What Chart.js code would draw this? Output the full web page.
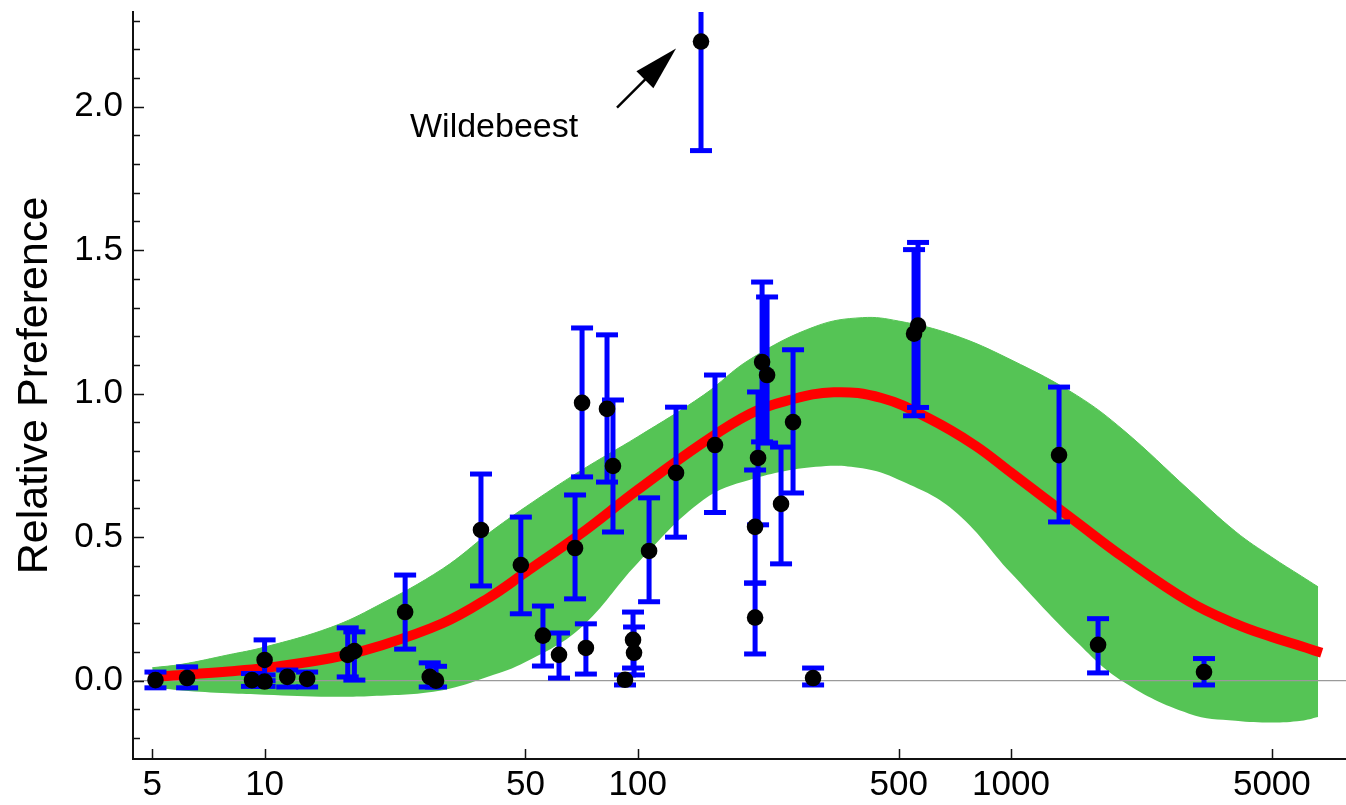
<!DOCTYPE html>
<html>
<head>
<meta charset="utf-8">
<script src="https://cdn.jsdelivr.net/npm/chart.js@4.4.0/dist/chart.umd.min.js"></script>
<style>
html,body{margin:0;padding:0;background:#ffffff;}
canvas{display:block;}
</style>
</head>
<body>
<canvas id="chart" width="1346" height="805"></canvas>
<script>
// ---------- data ----------
const xTickValues = [5, 10, 50, 100, 500, 1000, 5000];
const yTickValues = [0, 0.5, 1, 1.5, 2];
const yMinorTickValues = [-0.2, -0.1, 0, 0.1, 0.2, 0.3, 0.4, 0.5, 0.6, 0.7, 0.8, 0.9, 1.0, 1.1, 1.2, 1.3, 1.4, 1.5, 1.6, 1.7, 1.8, 1.9, 2.0, 2.1, 2.2, 2.3];

// prey body mass (kg) of each observed species
const bodyMass = [5.1, 6.2, 9.25, 10.0, 10.0, 11.5, 13.0, 16.7, 17.4, 23.8,
                  27.7, 28.8, 38.0, 48.6, 55.7, 61.5, 67.9, 70.9, 72.6, 82.7,
                  85.8, 92.4, 97.1, 97.7, 107.2, 126.6, 147.7, 161.0, 206.2, 206.2,
                  210.0, 215.3, 222.0, 242.0, 260.6, 294.9, 549.8, 563.5, 1345, 1711,
                  3290];
const preference = [0.002, 0.009, 0.002, 0.072, -0.003, 0.013, 0.006, 0.090, 0.103, 0.239,
                    0.013, 0.000, 0.525, 0.403, 0.157, 0.090, 0.462, 0.968, 0.114, 0.947,
                    0.748, 0.003, 0.142, 0.097, 0.452, 0.724, 2.227, 0.821, 0.536, 0.220,
                    0.776, 1.110, 1.065, 0.616, 0.901, 0.009, 1.209, 1.237, 0.786, 0.125,
                    0.030];
const prefLow = [-0.025, -0.025, -0.020, 0.000, -0.020, -0.022, -0.022, 0.013, 0.002, 0.110,
                 -0.022, -0.022, 0.330, 0.233, 0.051, 0.009, 0.285, 0.710, 0.023, 0.692,
                 0.518, -0.015, 0.044, 0.020, 0.275, 0.500, 1.847, 0.586, 0.340, 0.093,
                 0.543, 0.832, 0.828, 0.407, 0.654, -0.015, 0.923, 0.952, 0.553, 0.027,
                 -0.015];
const prefHigh = [0.030, 0.048, 0.025, 0.142, 0.020, 0.037, 0.030, 0.184, 0.170, 0.368,
                  0.062, 0.050, 0.720, 0.570, 0.260, 0.166, 0.647, 1.229, 0.198, 1.205,
                  0.978, 0.020, 0.239, 0.187, 0.637, 0.953, 2.607, 1.065, 0.734, 0.340,
                  1.006, 1.389, 1.337, 0.814, 1.153, 0.044, 1.502, 1.527, 1.023, 0.216,
                  0.077];

// fitted preference curve (red)
const fitMass = [4.9, 5, 6, 8, 10, 15, 20, 30, 40, 50, 70, 100, 150, 200, 250, 335, 450, 600, 800, 1000, 1500, 2000, 3000, 4000, 5000, 6000, 6800];
const fitPref = [0.010, 0.012, 0.020, 0.032, 0.044, 0.078, 0.118, 0.200, 0.290, 0.377, 0.510, 0.665, 0.830, 0.930, 0.975, 1.005, 0.985, 0.915, 0.820, 0.725, 0.552, 0.430, 0.276, 0.198, 0.152, 0.120, 0.097];

// confidence band (green)
const bandMass = [5, 6, 8, 10, 15, 20, 30, 40, 50, 70, 100, 150, 200, 300, 400, 500, 700, 1000, 1500, 2000, 3000, 4000, 5000, 6000, 6650];
const bandUpper = [0.045, 0.057, 0.090, 0.117, 0.185, 0.260, 0.390, 0.515, 0.605, 0.730, 0.850, 0.995, 1.120, 1.235, 1.265, 1.253, 1.205, 1.118, 0.994, 0.873, 0.664, 0.519, 0.430, 0.364, 0.327];
const bandLower = [-0.024, -0.034, -0.044, -0.049, -0.056, -0.053, -0.033, 0.015, 0.065, 0.182, 0.410, 0.630, 0.700, 0.745, 0.740, 0.700, 0.595, 0.375, 0.135, -0.004, -0.115, -0.140, -0.146, -0.140, -0.127];

const annotationText = 'Wildebeest';
const yTitle = 'Relative Preference';

// ---------- build datasets ----------
const FONT = "'Liberation Sans', Arial, Helvetica, sans-serif";
const annotatedIndex = preference.indexOf(Math.max(...preference));

const dotData = bodyMass.map((m, i) => ({x: m, y: preference[i]}));
const barData = [];
const capData = [];
bodyMass.forEach((m, i) => {
  barData.push({x: m, y: prefLow[i]}, {x: m, y: prefHigh[i]}, {x: m, y: null});
  capData.push({x: m, y: prefLow[i]}, {x: m, y: prefHigh[i]});
});
const fitData = fitMass.map((m, i) => ({x: m, y: fitPref[i]}));
const upperData = bandMass.map((m, i) => ({x: m, y: bandUpper[i]}));
const lowerData = bandMass.map((m, i) => ({x: m, y: bandLower[i]}));

const X_MIN = 4.44, X_MAX = 7900, Y_MIN = -0.273, Y_MAX = 2.33;
const zeroData = [{x: X_MIN, y: 0}, {x: X_MAX, y: 0}];

const GREEN = '#55c455';
const BLUE = '#0000ff';

// ---------- plugins ----------
const insideTicks = {
  id: 'insideTicks',
  afterDraw(chart) {
    const {ctx, chartArea, scales: {x, y}} = chart;
    ctx.save();
    ctx.strokeStyle = '#111';
    ctx.lineWidth = 1.5;
    ctx.beginPath();
    yMinorTickValues.forEach(v => {
      const py = Math.round(y.getPixelForValue(v)) + 0.5;
      const major = Math.abs(Math.round(v * 10) % 5) === 0;
      ctx.moveTo(chartArea.left, py);
      ctx.lineTo(chartArea.left + (major ? 11 : 7), py);
    });
    xTickValues.forEach(v => {
      const px = Math.round(x.getPixelForValue(v)) + 0.5;
      ctx.moveTo(px, chartArea.bottom);
      ctx.lineTo(px, chartArea.bottom - 10);
    });
    ctx.stroke();
    ctx.restore();
  }
};

const wildebeestNote = {
  id: 'wildebeestNote',
  afterDatasetsDraw(chart) {
    const {ctx, scales: {x, y}} = chart;
    const px = x.getPixelForValue(bodyMass[annotatedIndex]);
    const py = y.getPixelForValue(preference[annotatedIndex]);
    ctx.save();
    ctx.fillStyle = '#000';
    ctx.font = '34px ' + FONT;
    ctx.textAlign = 'left';
    ctx.textBaseline = 'alphabetic';
    ctx.fillText(annotationText, px - 291, py + 95);
    const tail = {x: px - 84, y: py + 66};
    const tip = {x: px - 25, y: py + 7};
    const dx = tip.x - tail.x, dy = tip.y - tail.y;
    const len = Math.hypot(dx, dy);
    const ux = dx / len, uy = dy / len;
    const headLen = 44, headHalf = 12;
    const bx = tip.x - ux * headLen, by = tip.y - uy * headLen;
    ctx.strokeStyle = '#000';
    ctx.lineWidth = 2.5;
    ctx.beginPath();
    ctx.moveTo(tail.x, tail.y);
    ctx.lineTo(bx + ux * 4, by + uy * 4);
    ctx.stroke();
    ctx.beginPath();
    ctx.moveTo(tip.x, tip.y);
    ctx.lineTo(bx - uy * headHalf, by + ux * headHalf);
    ctx.lineTo(bx + uy * headHalf, by - ux * headHalf);
    ctx.closePath();
    ctx.fill();
    ctx.restore();
  }
};

// ---------- chart ----------
new Chart(document.getElementById('chart'), {
  type: 'scatter',
  data: {
    datasets: [
      { // 0: lower band edge
        label: 'band lower', data: lowerData, showLine: true, fill: false,
        borderColor: 'rgba(0,0,0,0)', borderWidth: 1, pointRadius: 0,
        tension: 0.4, order: 7
      },
      { // 1: upper band edge, filled to lower
        label: 'band upper', data: upperData, showLine: true, fill: '-1',
        backgroundColor: GREEN, borderColor: GREEN, borderWidth: 1, pointRadius: 0,
        tension: 0.4, order: 6
      },
      { // 2: zero line
        label: 'zero', data: zeroData, showLine: true, fill: false,
        borderColor: '#9a9a9a', borderWidth: 1.2, pointRadius: 0, order: 5
      },
      { // 3: fitted curve
        label: 'fit', data: fitData, showLine: true, fill: false,
        borderColor: '#ff0000', borderWidth: 10, pointRadius: 0,
        tension: 0.4, borderCapStyle: 'butt', order: 4
      },
      { // 4: error bar stems
        label: 'error', data: barData, showLine: true, spanGaps: false, fill: false,
        borderColor: BLUE, borderWidth: 5, pointRadius: 0, tension: 0, order: 3
      },
      { // 5: error bar caps
        label: 'caps', data: capData, showLine: false,
        pointStyle: 'line', pointRadius: 11, pointBorderWidth: 5,
        pointBorderColor: BLUE, pointBackgroundColor: BLUE, order: 2
      },
      { // 6: observations
        label: 'observed', data: dotData, showLine: false,
        pointRadius: 8.3, pointBorderWidth: 0,
        pointBackgroundColor: '#000', pointBorderColor: '#000', order: 1
      }
    ]
  },
  options: {
    responsive: false,
    devicePixelRatio: 1,
    animation: false,
    events: [],
    layout: { padding: {top: 12, right: 0, bottom: 0, left: 0}, autoPadding: false },
    plugins: { legend: {display: false}, tooltip: {enabled: false}, title: {display: false} },
    scales: {
      x: {
        type: 'logarithmic', position: 'bottom', min: X_MIN, max: X_MAX,
        afterBuildTicks: s => { s.ticks = xTickValues.map(v => ({value: v})); },
        afterFit: s => { s.height = 46; s.paddingLeft = 0; s.paddingRight = 0; },
        grid: {display: false, drawTicks: false},
        border: {display: true, color: '#111', width: 2},
        ticks: {
          font: {family: FONT, size: 35}, color: '#000', padding: 5,
          autoSkip: false, maxRotation: 0, minRotation: 0,
          callback: v => String(v)
        }
      },
      y: {
        type: 'linear', position: 'left', min: Y_MIN, max: Y_MAX,
        afterBuildTicks: s => { s.ticks = yTickValues.map(v => ({value: v})); },
        afterFit: s => { s.width = 133; s.paddingTop = 0; s.paddingBottom = 0; },
        grid: {display: false, drawTicks: false},
        border: {display: true, color: '#111', width: 2},
        ticks: {
          font: {family: FONT, size: 35}, color: '#000', padding: 10,
          callback: v => Number(v).toFixed(1)
        },
        title: {
          display: true, text: yTitle, color: '#000',
          font: {family: FONT, size: 43}, padding: {top: 9, bottom: 0}
        }
      }
    }
  },
  plugins: [wildebeestNote, insideTicks]
});
</script>
</body>
</html>
